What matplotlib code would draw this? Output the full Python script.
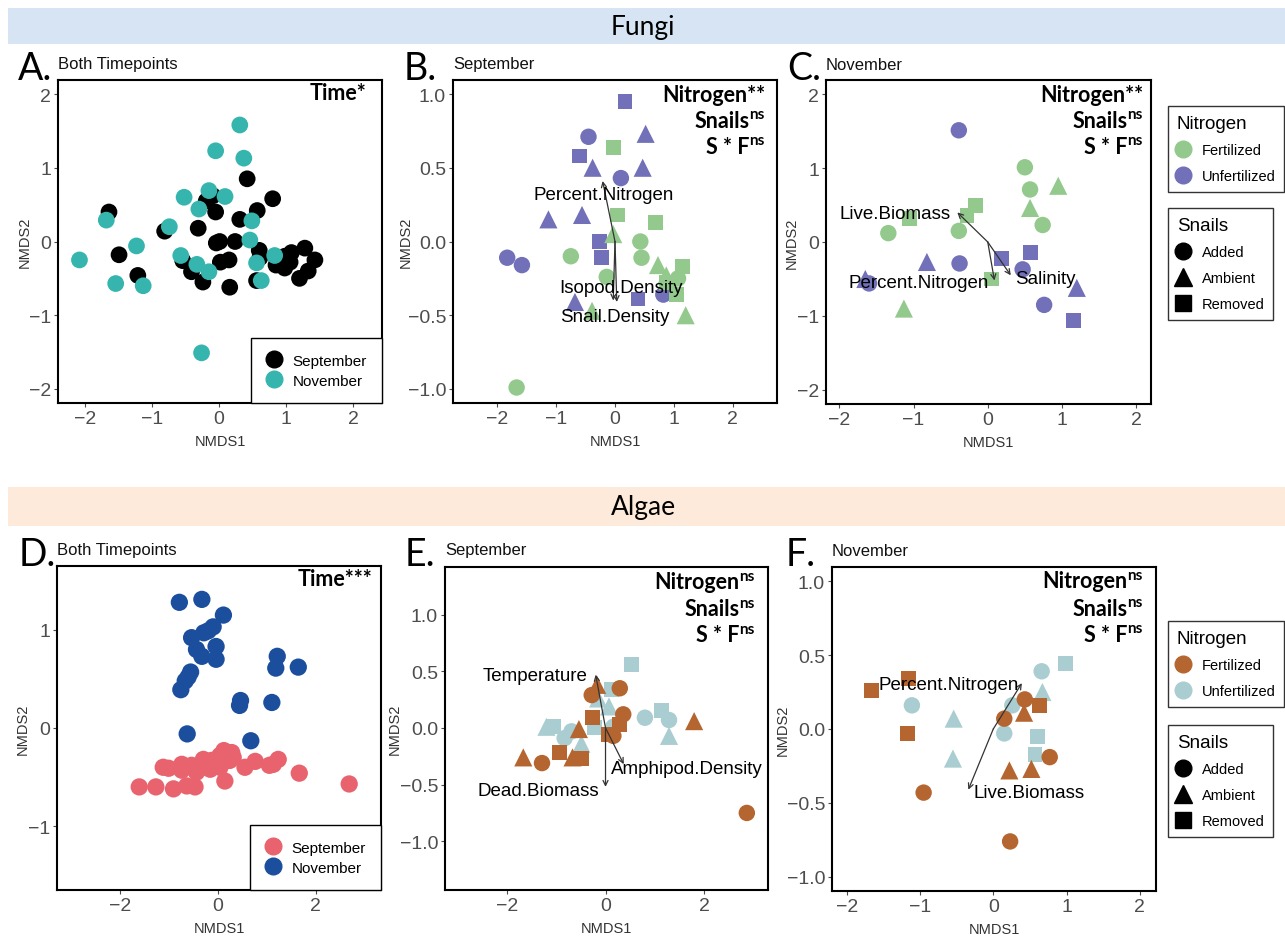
import matplotlib
matplotlib.use('Agg')
import matplotlib.pyplot as plt
from matplotlib.lines import Line2D
from matplotlib.patches import Rectangle

W, H = 1285, 937

# ---- data ----
# A. fungi, both timepoints
A_sep_x = [0.42, 0.80, -0.19, -0.09, -0.05, 0.57, 0.31, -1.64, -0.81, -0.31, 0.01, -0.04, 0.24, -1.49,
           -0.54, -0.41, 0.02, 0.15, -0.24, 0.16, -1.21, 0.60, 0.61, 0.56, 0.85, 0.98, 1.08, 1.06, 1.28,
           1.43, 1.33, 1.20, 0.98]
A_sep_y = [0.85, 0.58, 0.55, 0.62, 0.40, 0.42, 0.30, 0.40, 0.14, 0.18, 0.00, -0.02, 0.00, -0.18,
           -0.26, -0.41, -0.28, -0.25, -0.55, -0.62, -0.46, -0.12, -0.22, -0.53, -0.32, -0.36, -0.15,
           -0.28, -0.09, -0.25, -0.40, -0.50, -0.20]
A_nov_x = [0.31, -0.05, 0.37, -0.15, 0.09, -0.52, -0.30, -1.68, -0.74, 0.49, 0.46, -1.23, -2.08,
           -0.57, -0.33, -0.15, 0.56, 0.83, 0.63, -1.54, -1.13, -0.26]
A_nov_y = [1.58, 1.23, 1.13, 0.69, 0.61, 0.60, 0.44, 0.29, 0.20, 0.28, 0.02, -0.06, -0.25,
           -0.19, -0.31, -0.41, -0.29, -0.19, -0.53, -0.57, -0.60, -1.51]

# B. fungi, September
B_x = [0.17, -0.60, -0.26, -0.23, 0.39, -0.45, 0.10, -1.83, -1.58, 0.82, 0.52, -0.38, 0.47, -1.13, -0.56, -0.68,
       -0.03, 0.04, 0.69, 1.14, 1.04, 0.87, 0.43, -0.75, 0.45, -0.14, -1.67, 1.07, -0.03, 0.73, 0.87, -0.39, 1.20]
B_y = [0.95, 0.58, 0.00, -0.11, -0.39, 0.71, 0.43, -0.11, -0.16, -0.36, 0.73, 0.50, 0.50, 0.15, 0.18, -0.41,
       0.64, 0.18, 0.13, -0.17, -0.36, -0.28, 0.00, -0.10, -0.11, -0.24, -0.99, -0.25, 0.05, -0.16, -0.23, -0.47, -0.50]
B_nitrogen = ['U'] * 16 + ['F'] * 17
B_snails = (['Removed'] * 5 + ['Added'] * 5 + ['Ambient'] * 6 +
            ['Removed'] * 6 + ['Added'] * 6 + ['Ambient'] * 5)
B_vec_x = [-0.21, 0.03, -0.03]
B_vec_y = [0.41, -0.41, -0.40]
B_vec_names = ['Percent.Nitrogen', 'Isopod.Density', 'Snail.Density']
B_lab_x = [-0.20, 0.11, 0.00]
B_lab_y = [0.32, -0.31, -0.51]

# C. fungi, November
C_x = [-0.39, -0.38, 0.47, 0.76, -1.60, -0.82, -1.65, 1.20, 0.19, 0.58, 1.16,
       0.50, 0.57, 0.74, -1.34, -0.39, 0.95, 0.57, -1.13, -0.16, -0.28, -1.05, 0.05]
C_y = [1.51, -0.29, -0.37, -0.85, -0.56, -0.27, -0.50, -0.62, -0.22, -0.14, -1.06,
       1.01, 0.71, 0.23, 0.12, 0.15, 0.76, 0.46, -0.90, 0.49, 0.36, 0.32, -0.50]
C_nitrogen = ['U'] * 11 + ['F'] * 12
C_snails = (['Added'] * 5 + ['Ambient'] * 3 + ['Removed'] * 3 +
            ['Added'] * 5 + ['Ambient'] * 3 + ['Removed'] * 4)
C_vec_x = [-0.41, 0.09, 0.31]
C_vec_y = [0.40, -0.52, -0.45]
C_vec_names = ['Live.Biomass', 'Percent.Nitrogen', 'Salinity']
C_lab_x = [-1.25, -0.93, 0.77]
C_lab_y = [0.38, -0.55, -0.49]

# D. algae, both timepoints
D_sep_x = [-1.61, -1.27, -0.91, -1.12, -1.01, -0.74, -0.74, -0.64, -0.47, -0.54, -0.44, -0.30, -0.23, -0.13,
           -0.06, 0.04, 0.12, 0.28, 0.24, 0.04, 0.14, 0.31, 0.55, 0.76, 1.05, 1.23, 1.13, 1.66, 2.68, -0.37,
           -0.16, -0.03]
D_sep_y = [-0.60, -0.60, -0.62, -0.40, -0.41, -0.37, -0.43, -0.59, -0.60, -0.38, -0.45, -0.32, -0.40, -0.33,
           -0.38, -0.28, -0.23, -0.25, -0.33, -0.40, -0.54, -0.30, -0.40, -0.34, -0.38, -0.32, -0.37, -0.46,
           -0.57, -0.40, -0.42, -0.32]
D_nov_x = [-0.79, -0.33, 0.11, -0.10, -0.20, -0.29, -0.54, -0.04, -0.44, -0.33, -0.04, 1.21, 1.18, 1.64,
           -0.56, -0.61, -0.67, -0.76, 0.46, 0.44, 1.10, -0.63, 0.67]
D_nov_y = [1.28, 1.31, 1.15, 1.03, 0.99, 0.97, 0.92, 0.83, 0.80, 0.73, 0.70, 0.73, 0.61, 0.62,
           0.57, 0.52, 0.48, 0.39, 0.28, 0.23, 0.26, -0.06, -0.13]

# E. algae, September
E_x = [-0.28, 0.29, 0.36, 0.16, -1.29, 2.87, -1.67, -0.54, -0.67, 1.80, -0.17, -0.26, -0.93, -0.49, 0.05, 0.29,
       0.53, 0.12, -0.22, 1.14, -1.06, 0.80, 1.29, 0.16, -0.83, -0.69, -0.15, 0.07, -1.20, -0.49, 1.29]
E_y = [0.29, 0.35, 0.12, -0.07, -0.31, -0.75, -0.26, -0.01, -0.26, 0.06, 0.38, 0.09, -0.22, -0.27, -0.06, 0.03,
       0.56, 0.34, 0.00, 0.15, 0.01, 0.09, 0.07, 0.01, -0.09, -0.03, 0.26, 0.19, 0.01, -0.14, -0.07]
E_nitrogen = ['F'] * 16 + ['U'] * 15
E_snails = (['Added'] * 6 + ['Ambient'] * 5 + ['Removed'] * 5 +
            ['Removed'] * 5 + ['Added'] * 5 + ['Ambient'] * 5)
E_vec_x = [-0.20, 0.37, 0.00]
E_vec_y = [0.47, -0.32, -0.52]
E_vec_names = ['Temperature', 'Amphipod.Density', 'Dead.Biomass']
E_lab_x = [-1.44, 1.66, -1.37]
E_lab_y = [0.46, -0.36, -0.55]

# F. algae, November
F_x = [-1.66, -1.16, -1.17, 0.63, 0.43, 0.15, 0.77, -0.95, 0.23, 0.42, 0.22, 0.52,
       0.99, 0.60, 0.57, 0.66, -1.11, 0.26, 0.15, 0.67, -0.54, -0.55]
F_y = [0.26, 0.34, -0.03, 0.16, 0.20, 0.07, -0.19, -0.43, -0.76, 0.11, -0.28, -0.27,
       0.44, -0.05, -0.17, 0.39, 0.16, 0.16, -0.03, 0.25, 0.07, -0.20]
F_nitrogen = ['F'] * 12 + ['U'] * 10
F_snails = (['Removed'] * 4 + ['Added'] * 5 + ['Ambient'] * 3 +
            ['Removed'] * 3 + ['Added'] * 4 + ['Ambient'] * 3)
F_vec_x = [0.39, -0.34]
F_vec_y = [0.31, -0.41]
F_vec_names = ['Percent.Nitrogen', 'Live.Biomass']
F_lab_x = [-0.61, 0.49]
F_lab_y = [0.30, -0.43]

# ---- styles ----
fungi_cols = {'F': '#93c98d', 'U': '#7170b8'}
algae_cols = {'F': '#b5652f', 'U': '#a9cdd0'}
snail_mk = {'Added': 'o', 'Ambient': '^', 'Removed': 's'}
snail_sz = {'Added': 140, 'Ambient': 170, 'Removed': 115}
TICK_COL = '#4d4d4d'
SANS = ['Liberation Sans', 'DejaVu Sans']
CAL = ['Lato', 'DejaVu Sans']

plt.rcParams['font.family'] = SANS

fig = plt.figure(figsize=(W / 100, H / 100), dpi=100)
renderer = fig.canvas.get_renderer()


def fx(px):
    return px / W


def fy(py):
    return 1 - py / H


def make_axes(x0, y0, x1, y1, xlim, ylim, xticks, yticks, yfmt=None):
    ax = fig.add_axes([fx(x0), fy(y1), (x1 - x0) / W, (y1 - y0) / H])
    ax.set_xlim(*xlim)
    ax.set_ylim(*ylim)
    ax.set_xticks(xticks)
    ax.set_yticks(yticks)
    if yfmt:
        ax.set_yticklabels([yfmt.format(v).replace('-', '\u2212') for v in yticks])
    ax.tick_params(labelsize=14, colors=TICK_COL, length=3, width=0.8, pad=2)
    for s in ax.spines.values():
        s.set_linewidth(1.5)
        s.set_color('black')
    return ax


def axis_labels(ax, x0, y0, x1, y1, ylab_dx, show_y=True):
    fig.text(fx((x0 + x1) / 2), fy(y1 + 38), 'NMDS1', ha='center', va='center', fontsize=10.5, color='#333333')
    if show_y:
        fig.text(fx(x0 - ylab_dx), fy((y0 + y1) / 2), 'NMDS2', ha='center', va='center', fontsize=10.5,
                 color='#333333', rotation=90)


def panel_title(letter, lx, sub, sx, y):
    fig.text(fx(lx), fy(y + 4), letter, ha='left', va='center', fontsize=27, family=CAL)
    fig.text(fx(sx), fy(y), sub, ha='left', va='center', fontsize=12, color='#111111')


def stat_line(right, y, main, sup=None):
    w = 0
    if sup:
        t = fig.text(fx(right), fy(y - 6), sup, ha='right', va='center', fontsize=11,
                     fontweight='bold', family=CAL)
        w = t.get_window_extent(renderer).width
    fig.text(fx(right - w), fy(y), main, ha='right', va='center', fontsize=15.5,
             fontweight='bold', family=CAL)


def treatment_points(ax, xs, ys, nit, sn, cols):
    for n in ['U', 'F']:
        for s in ['Added', 'Ambient', 'Removed']:
            px = [x for x, a, b in zip(xs, nit, sn) if a == n and b == s]
            py = [y for y, a, b in zip(ys, nit, sn) if a == n and b == s]
            ax.scatter(px, py, s=snail_sz[s], marker=snail_mk[s], color=cols[n], edgecolors='none', zorder=3)


def vectors(ax, vx, vy, names, lx, ly):
    for x, y in zip(vx, vy):
        ax.annotate('', xy=(x, y), xytext=(0, 0),
                    arrowprops=dict(arrowstyle='->', color='#333333', lw=0.9, mutation_scale=9,
                                    shrinkA=0, shrinkB=0), zorder=4)
    for name, x, y in zip(names, lx, ly):
        ax.text(x, y, name, ha='center', va='center', fontsize=13.5, color='black', zorder=5)


def time_legend(ax, c_sep, c_nov):
    hs = [Line2D([], [], marker='o', color=c, linestyle='none', markersize=12) for c in (c_sep, c_nov)]
    leg = ax.legend(hs, ['September', 'November'], loc='lower right', borderaxespad=0, fancybox=False,
                    edgecolor='black', fontsize=11, borderpad=1.0, labelspacing=0.4,
                    handlelength=1.0, handletextpad=0.7, framealpha=1)
    leg.get_frame().set_linewidth(1.0)
    leg.set_zorder(6)


def side_legends(cols, top_n, top_s):
    opts = dict(loc='upper left', borderaxespad=0, fancybox=False, edgecolor='black', fontsize=10.5,
                title_fontsize=13.5, alignment='left', labelspacing=0.8, handlelength=0.9,
                handletextpad=0.8, borderpad=0.6)
    hn = [Line2D([], [], marker='o', color=cols[k], linestyle='none', markersize=12) for k in ('F', 'U')]
    l1 = fig.legend(hn, ['Fertilized', 'Unfertilized'], title='Nitrogen',
                    bbox_to_anchor=(fx(1168), fy(top_n)), **opts)
    l1.get_frame().set_linewidth(1.0)
    hs = [Line2D([], [], marker=m, color='black', linestyle='none', markersize=ms)
          for m, ms in (('o', 12), ('^', 13), ('s', 11))]
    l2 = fig.legend(hs, ['Added', 'Ambient', 'Removed'], title='Snails',
                    bbox_to_anchor=(fx(1168), fy(top_s)), **opts)
    l2.get_frame().set_linewidth(1.0)


# ---- header bands ----
fig.patches.append(Rectangle((fx(8), fy(45)), (W - 8) / W, 36 / H, transform=fig.transFigure,
                             facecolor='#d6e4f4', edgecolor='none', zorder=0))
fig.patches.append(Rectangle((fx(8), fy(527)), (W - 8) / W, 39 / H, transform=fig.transFigure,
                             facecolor='#fdeadb', edgecolor='none', zorder=0))
fig.text(fx(643), fy(27), 'Fungi', ha='center', va='center', fontsize=19, family=CAL)
fig.text(fx(643), fy(507), 'Algae', ha='center', va='center', fontsize=19, family=CAL)

# ---- A ----
boxA = (58, 81, 382, 404)
ax = make_axes(*boxA, (-2.4, 2.43), (-2.19, 2.19), [-2, -1, 0, 1, 2], [-2, -1, 0, 1, 2])
ax.scatter(A_sep_x, A_sep_y, s=145, color='black', edgecolors='none', zorder=3)
ax.scatter(A_nov_x, A_nov_y, s=145, color='#35b5ae', edgecolors='none', zorder=3)
time_legend(ax, 'black', '#35b5ae')
axis_labels(ax, *boxA, 33)
panel_title('A.', 18, 'Both Timepoints', 58, 65)
stat_line(366, 94, 'Time*')

# ---- B ----
boxB = (453, 81, 777, 404)
ax = make_axes(*boxB, (-2.75, 2.75), (-1.095, 1.095), [-2, -1, 0, 1, 2], [-1, -0.5, 0, 0.5, 1], '{:.1f}')
treatment_points(ax, B_x, B_y, B_nitrogen, B_snails, fungi_cols)
vectors(ax, B_vec_x, B_vec_y, B_vec_names, B_lab_x, B_lab_y)
axis_labels(ax, *boxB, 47)
panel_title('B.', 404, 'September', 453, 65)
stat_line(765, 95, 'Nitrogen**')
stat_line(765, 121, 'Snails', 'ns')
stat_line(765, 147, 'S * F', 'ns')

# ---- C ----
boxC = (826, 81, 1151, 405)
ax = make_axes(*boxC, (-2.18, 2.2), (-2.19, 2.19), [-2, -1, 0, 1, 2], [-2, -1, 0, 1, 2])
treatment_points(ax, C_x, C_y, C_nitrogen, C_snails, fungi_cols)
vectors(ax, C_vec_x, C_vec_y, C_vec_names, C_lab_x, C_lab_y)
axis_labels(ax, *boxC, 34)
panel_title('C.', 787, 'November', 826, 65)
stat_line(1143, 95, 'Nitrogen**')
stat_line(1143, 121, 'Snails', 'ns')
stat_line(1143, 147, 'S * F', 'ns')
side_legends(fungi_cols, 107, 209)

# ---- D ----
boxD = (57, 567, 381, 891)
ax = make_axes(*boxD, (-3.29, 3.33), (-1.65, 1.65), [-2, 0, 2], [-1, 0, 1])
ax.scatter(D_sep_x, D_sep_y, s=155, color='#e8636e', edgecolors='none', zorder=3)
ax.scatter(D_nov_x, D_nov_y, s=155, color='#1c4e9e', edgecolors='none', zorder=3)
time_legend(ax, '#e8636e', '#1c4e9e')
axis_labels(ax, *boxD, 34)
panel_title('D.', 19, 'Both Timepoints', 57, 551)
stat_line(372, 580, 'Time***')

# ---- E ----
boxE = (445, 568, 768, 891)
ax = make_axes(*boxE, (-3.26, 3.3), (-1.43, 1.42), [-2, 0, 2], [-1, -0.5, 0, 0.5, 1], '{:.1f}')
treatment_points(ax, E_x, E_y, E_nitrogen, E_snails, algae_cols)
vectors(ax, E_vec_x, E_vec_y, E_vec_names, E_lab_x, E_lab_y)
axis_labels(ax, *boxE, 50)
panel_title('E.', 405, 'September', 445, 551)
stat_line(755, 583, 'Nitrogen', 'ns')
stat_line(755, 610, 'Snails', 'ns')
stat_line(755, 636, 'S * F', 'ns')

# ---- F ----
boxF = (832, 568, 1156, 892)
ax = make_axes(*boxF, (-2.2, 2.22), (-1.095, 1.095), [-2, -1, 0, 1, 2], [-1, -0.5, 0, 0.5, 1], '{:.1f}')
treatment_points(ax, F_x, F_y, F_nitrogen, F_snails, algae_cols)
vectors(ax, F_vec_x, F_vec_y, F_vec_names, F_lab_x, F_lab_y)
axis_labels(ax, *boxF, 49)
panel_title('F.', 786, 'November', 832, 551)
stat_line(1143, 582, 'Nitrogen', 'ns')
stat_line(1143, 609, 'Snails', 'ns')
stat_line(1143, 635, 'S * F', 'ns')
side_legends(algae_cols, 622, 726)

fig.savefig('out.png', dpi=100)
